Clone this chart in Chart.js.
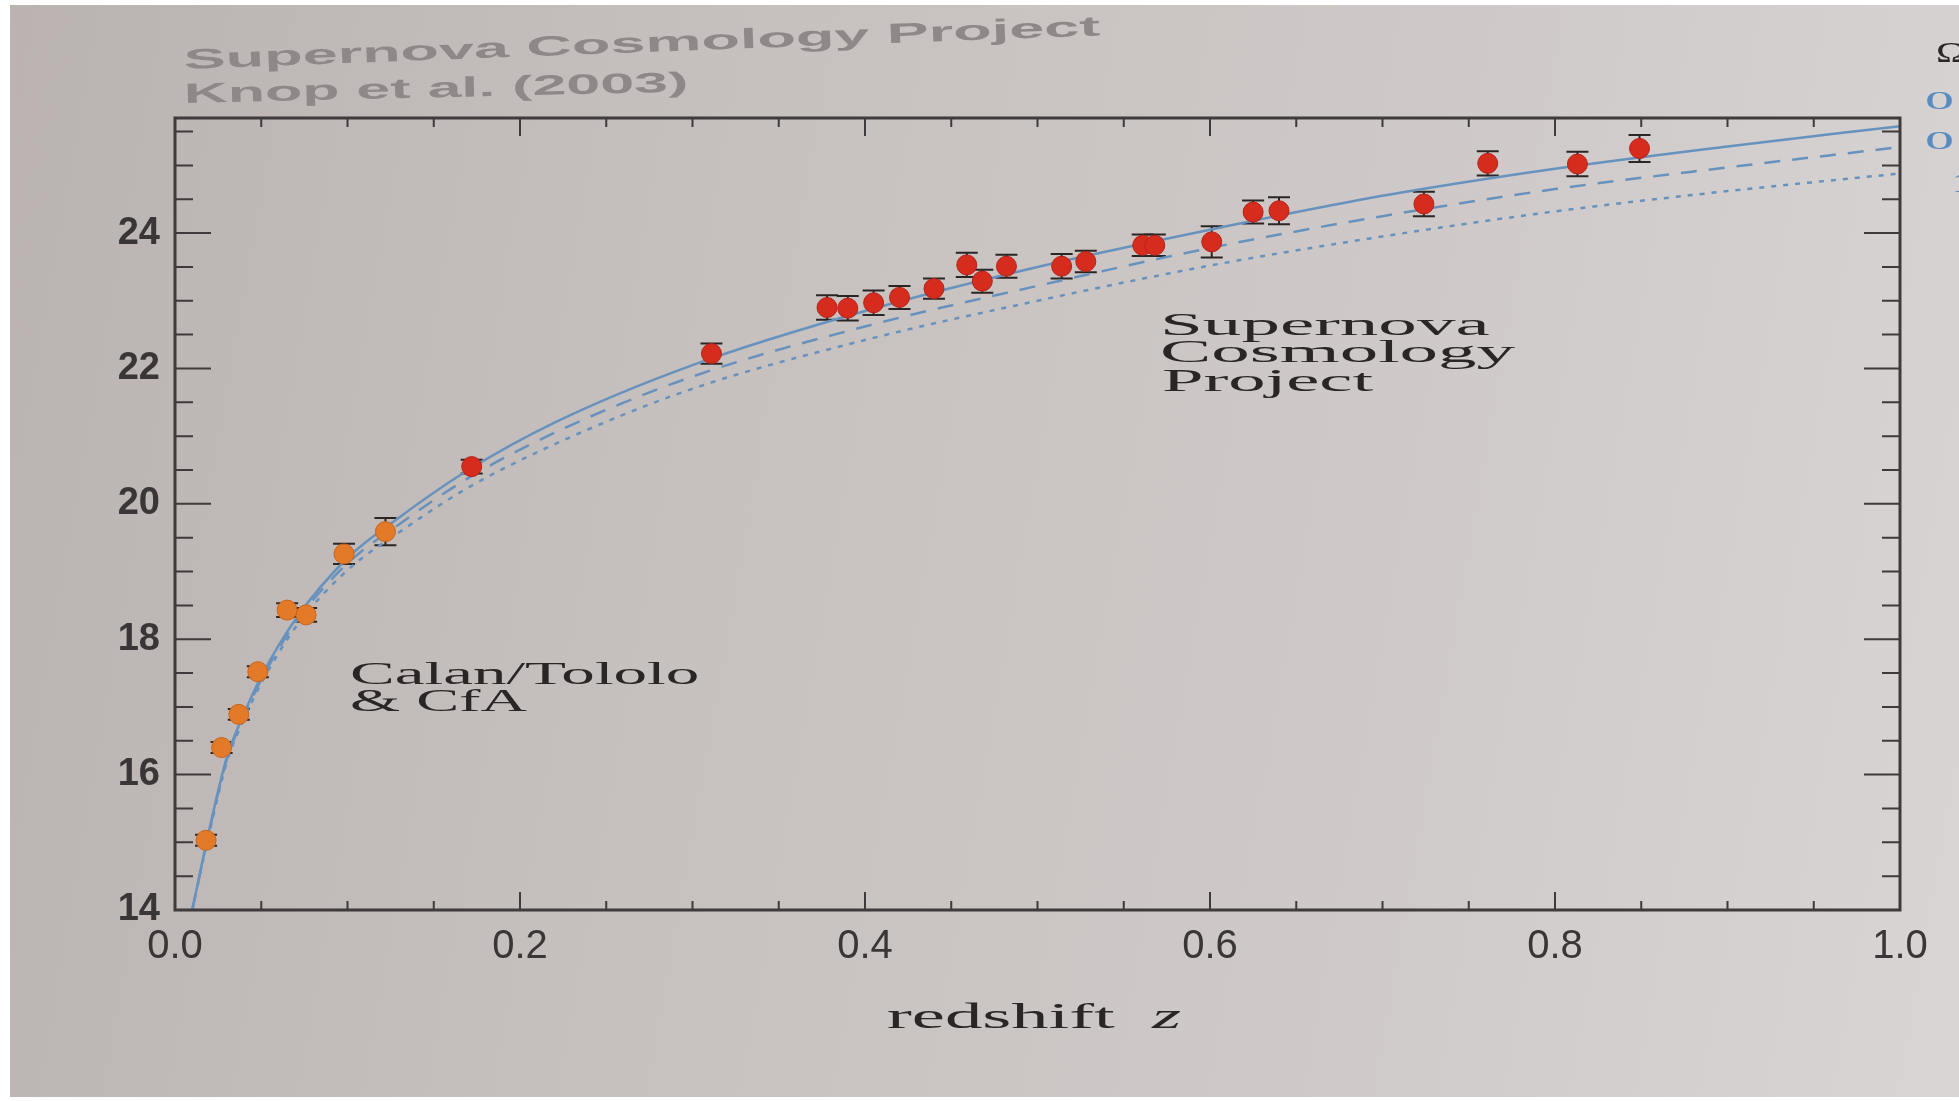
<!DOCTYPE html>
<html>
<head>
<meta charset="utf-8">
<script src="https://cdn.jsdelivr.net/npm/chart.js@4.4.1/dist/chart.umd.min.js"></script>
<style>
  html, body { margin: 0; padding: 0; width: 1959px; height: 1101px; overflow: hidden; background: #fff; }
  #page { position: absolute; left: 10px; top: 5px; width: 1949px; height: 1092px;
          background: linear-gradient(100deg, #bab3b1 0%, #c6c0be 35%, #cfcac9 70%, #d8d5d4 100%); }
  #chart { position: absolute; left: 0; top: 0; }
  .txt { position: absolute; white-space: nowrap; line-height: 1; transform-origin: 0 84%; }
  .sans { font-family: 'Liberation Sans', Arial, sans-serif; }
  .serif { font-family: 'Liberation Serif', 'Times New Roman', serif; color: #2a2626; }
</style>
</head>
<body>
<div id="page"></div>
<canvas id="chart" width="1959" height="1101"></canvas>

<!-- text printed on the page -->
<div class="txt sans" data-x="184" data-b="70" data-w="918" data-rot="-2.1" style="font-size:28px;font-weight:bold;color:#8e8889">Supernova Cosmology Project</div>
<div class="txt sans" data-x="184" data-b="104" data-w="505" data-rot="-1.3" style="font-size:28px;font-weight:bold;color:#8e8889">Knop et al. (2003)</div>
<div class="txt serif" data-x="1160" data-b="335" data-w="330" style="font-size:32px">Supernova</div>
<div class="txt serif" data-x="1160" data-b="362" data-w="356" style="font-size:32px">Cosmology</div>
<div class="txt serif" data-x="1162" data-b="391" data-w="212" style="font-size:32px">Project</div>
<div class="txt serif" data-x="350" data-b="684" data-w="350" style="font-size:32px">Calan/Tololo</div>
<div class="txt serif" data-x="350" data-b="711" data-w="177" style="font-size:32px">&amp; CfA</div>
<div class="txt serif" data-x="887" data-b="1028" data-w="294" style="font-size:36px">redshift&nbsp;&nbsp;<i>z</i></div>
<!-- legend cut off at the right edge -->
<div class="txt serif" data-x="1936" data-b="62" data-w="30" style="font-size:30px;color:#2a2626">Ω</div>
<div class="txt serif" data-x="1925" data-b="110" data-w="29" style="font-size:26px;color:#5a8cc0">0</div>
<div class="txt serif" data-x="1925" data-b="150" data-w="29" style="font-size:26px;color:#5a8cc0">0</div>
<div class="txt serif" data-x="1953" data-b="193" style="font-size:28px;color:#5a8cc0">1</div>

<script>
// Calan/Tololo & CfA (low redshift)
var lowZ   = [0.018, 0.027, 0.037, 0.048, 0.065, 0.076, 0.098, 0.122];
var lowMag = [15.03, 16.40, 16.89, 17.52, 18.43, 18.36, 19.26, 19.59];
var lowErr = [0.08, 0.08, 0.08, 0.08, 0.10, 0.10, 0.15, 0.20];

// Supernova Cosmology Project (high redshift)
var highZ   = [0.172, 0.311, 0.378, 0.390, 0.405, 0.420, 0.440, 0.459, 0.468, 0.482, 0.514,
               0.528, 0.561, 0.568, 0.601, 0.625, 0.640, 0.724, 0.761, 0.813, 0.849];
var highMag = [20.55, 22.22, 22.90, 22.89, 22.97, 23.05, 23.18, 23.53, 23.29, 23.51, 23.51,
               23.58, 23.82, 23.82, 23.87, 24.31, 24.33, 24.43, 25.03, 25.02, 25.25];
var highErr = [0.10, 0.15, 0.18, 0.18, 0.18, 0.17, 0.15, 0.18, 0.17, 0.17, 0.18,
               0.16, 0.16, 0.16, 0.23, 0.17, 0.20, 0.18, 0.18, 0.18, 0.20];

// model curves
var curveZ   = [0.010, 0.02, 0.03, 0.04, 0.05, 0.07, 0.10, 0.13, 0.17, 0.22, 0.30,
                0.40, 0.50, 0.60, 0.70, 0.80, 0.90, 1.00];
var solidMag = [14.00, 15.20, 16.25, 16.90, 17.45, 18.30, 19.20, 19.80, 20.50, 21.20, 22.05,
                22.85, 23.50, 24.05, 24.55, 24.95, 25.28, 25.58];
var dashMag  = [14.00, 15.18, 16.22, 16.86, 17.40, 18.25, 19.12, 19.70, 20.38, 21.05, 21.88,
                22.62, 23.22, 23.78, 24.25, 24.65, 24.97, 25.27];
var dotMag   = [14.00, 15.15, 16.18, 16.82, 17.35, 18.18, 19.02, 19.58, 20.24, 20.88, 21.70,
                22.42, 23.00, 23.52, 23.95, 24.32, 24.62, 24.88];

var xTicks = [0, 0.2, 0.4, 0.6, 0.8, 1.0];
var yTicks = [14, 16, 18, 20, 22, 24];

function pts(xs, ys) {
  return xs.map(function(x, i) { return {x: x, y: ys[i]}; });
}

// size the printed labels to the width they have in the photo
document.querySelectorAll('.txt').forEach(function(el) {
  var fs = parseFloat(el.style.fontSize);
  el.style.left = el.dataset.x + 'px';
  el.style.top = (parseFloat(el.dataset.b) - 0.84 * fs) + 'px';
  var t = '';
  if (el.dataset.rot) t += 'rotate(' + el.dataset.rot + 'deg) ';
  if (el.dataset.w) t += 'scaleX(' + (parseFloat(el.dataset.w) / el.offsetWidth) + ')';
  el.style.transform = t;
});

var axisColor = '#3f3a3b';

// error bars plus the frame with inward ticks on all four sides
var framePlugin = {
  id: 'frame',
  beforeDatasetsDraw: function(chart) {
    var c = chart.ctx, xs = chart.scales.x, ys = chart.scales.y;
    c.save();
    c.strokeStyle = '#2b2626';
    c.lineWidth = 2;
    chart.data.datasets.forEach(function(ds) {
      if (!ds.errors) return;
      ds.data.forEach(function(p, j) {
        var px = xs.getPixelForValue(p.x);
        var y1 = ys.getPixelForValue(p.y + ds.errors[j]);
        var y2 = ys.getPixelForValue(p.y - ds.errors[j]);
        c.beginPath();
        c.moveTo(px, y1); c.lineTo(px, y2);
        c.moveTo(px - 11, y1); c.lineTo(px + 11, y1);
        c.moveTo(px - 11, y2); c.lineTo(px + 11, y2);
        c.stroke();
      });
    });
    c.restore();
  },
  afterDraw: function(chart) {
    var c = chart.ctx, a = chart.chartArea, xs = chart.scales.x, ys = chart.scales.y;
    c.save();
    c.strokeStyle = axisColor;
    c.lineWidth = 3;
    c.strokeRect(a.left, a.top, a.right - a.left, a.bottom - a.top);
    c.lineWidth = 2;
    c.beginPath();
    for (var i = 1; i < 20; i++) {
      var px = xs.getPixelForValue(i * 0.05);
      var len = (i % 4 === 0) ? 18 : 9;
      c.moveTo(px, a.bottom); c.lineTo(px, a.bottom - len);
      c.moveTo(px, a.top); c.lineTo(px, a.top + len);
    }
    for (var k = 1; k * 0.5 + 14 < ys.max; k++) {
      var v = 14 + k * 0.5;
      var py = ys.getPixelForValue(v);
      var l2 = (k % 4 === 0) ? 36 : 18;
      c.moveTo(a.left, py); c.lineTo(a.left + l2, py);
      c.moveTo(a.right, py); c.lineTo(a.right - l2, py);
    }
    c.stroke();
    c.restore();
  }
};

var curveColor = 'rgb(104,146,190)';
var ctx = document.getElementById('chart').getContext('2d');

var chart = new Chart(ctx, {
  type: 'scatter',
  data: {
    datasets: [{
      label: 'Calan/Tololo & CfA',
      data: pts(lowZ, lowMag),
      errors: lowErr,
      backgroundColor: 'rgb(226,122,40)',
      borderColor: 'rgb(200,100,30)',
      borderWidth: 1,
      pointRadius: 10,
      order: 0
    }, {
      label: 'Supernova Cosmology Project',
      data: pts(highZ, highMag),
      errors: highErr,
      backgroundColor: 'rgb(214,44,30)',
      borderColor: 'rgb(180,34,24)',
      borderWidth: 1,
      pointRadius: 10,
      order: 0
    }, {
      label: 'solid',
      data: pts(curveZ, solidMag),
      showLine: true,
      borderColor: curveColor,
      borderWidth: 2.5,
      pointRadius: 0,
      cubicInterpolationMode: 'monotone',
      order: 2
    }, {
      label: 'dashed',
      data: pts(curveZ, dashMag),
      showLine: true,
      borderColor: curveColor,
      borderWidth: 2.5,
      borderDash: [16, 12],
      pointRadius: 0,
      cubicInterpolationMode: 'monotone',
      order: 2
    }, {
      label: 'dotted',
      data: pts(curveZ, dotMag),
      showLine: true,
      borderColor: curveColor,
      borderWidth: 2.5,
      borderDash: [5, 7],
      pointRadius: 0,
      cubicInterpolationMode: 'monotone',
      order: 2
    }]
  },
  options: {
    responsive: false,
    animation: false,
    layout: { padding: { left: 20, right: 59, top: 118, bottom: 0 } },
    plugins: { legend: { display: false }, tooltip: { enabled: false } },
    scales: {
      x: {
        type: 'linear', min: 0, max: 1,
        grid: { display: false, drawTicks: false },
        border: { display: false },
        afterBuildTicks: function(s) { s.ticks = xTicks.map(function(v) { return {value: v}; }); },
        afterFit: function(s) { s.height = 191; },
        ticks: {
          padding: 13, maxRotation: 0, color: '#3a3536',
          font: { family: "'Liberation Sans', Arial, sans-serif", size: 40 },
          callback: function(v) { return v.toFixed(1); }
        }
      },
      y: {
        type: 'linear', min: 14, max: 25.7,
        grid: { display: false, drawTicks: false },
        border: { display: false },
        afterBuildTicks: function(s) { s.ticks = yTicks.map(function(v) { return {value: v}; }); },
        afterFit: function(s) { s.width = 155; },
        ticks: {
          padding: 15, color: '#3a3536',
          font: { family: "'Liberation Sans', Arial, sans-serif", size: 38, weight: 'bold' }
        }
      }
    }
  },
  plugins: [framePlugin]
});
</script>
</body>
</html>
